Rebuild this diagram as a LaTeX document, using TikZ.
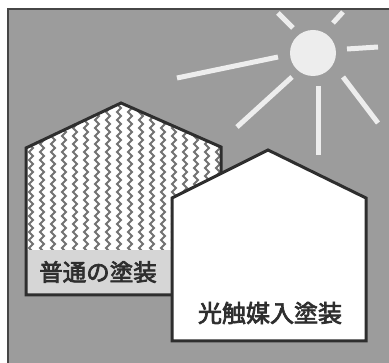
\documentclass[tikz,border=0pt]{standalone}
\usepackage{fontspec}
\newfontfamily\cjk{Noto Sans CJK JP}[FakeBold=3]
\usetikzlibrary{decorations.pathmorphing}
\definecolor{bg}{HTML}{9C9C9C}
\definecolor{sunwhite}{HTML}{EDEDED}
\definecolor{ink}{HTML}{2E2E2E}
\definecolor{band}{HTML}{D6D6D6}
\definecolor{zigcol}{HTML}{727272}
\tikzset{
  houseline/.style={draw=ink, line width=3pt, line join=miter},
  ray/.style={draw=sunwhite, line width=5pt},
  zig/.style={draw=zigcol, line width=2pt, decorate,
    decoration={zigzag, segment length=8pt, amplitude=2pt}},
  lbl/.style={text=ink, inner sep=0pt, font=\cjk\fontsize{23.5}{24}\selectfont},
}
\begin{document}
\begin{tikzpicture}[x=1pt,y=-1pt]
\useasboundingbox (0,0) rectangle (389,363);
\fill[white] (0,0) rectangle (389,363);
% panel
\fill[bg] (8,9) rectangle (389,363);
\draw[line width=1.2pt, gray!55!black] (8,363) -- (8,9) -- (389,9);

% sun and rays
\node[circle, fill=sunwhite, minimum size=46pt, inner sep=0pt] (sun) at (313,53) {};
\draw[ray] (278,13) -- (293,28);
\draw[ray] (333,23) -- (343,12);
\draw[ray] (347,49) -- (378,47);
\draw[ray] (177,78) -- (278,57);
\draw[ray] (237,127) -- (292,77);
\draw[ray] (318,86) -- (318,155);
\draw[ray] (343,77) -- (378,123);

% house with ordinary paint
\coordinate (la) at (26,295);
\coordinate (lb) at (26,148);
\coordinate (lc) at (121,103);
\coordinate (ld) at (221,147);
\coordinate (le) at (221,295);
\begin{scope}
  \clip (la) -- (lb) -- (lc) -- (ld) -- (le) -- cycle;
  \fill[white] (20,95) rectangle (230,300);
  \foreach \x in {31,42,...,222} \draw[zig] (\x,98) -- (\x,258);
  \fill[band] (20,250) rectangle (230,300);
\end{scope}
\draw[houseline] (la) -- (lb) -- (lc) -- (ld) -- (le) -- cycle;
\node[lbl] (plain) at (98,272) {普通の塗装};

% house with photocatalyst paint
\coordinate (ra) at (172,341);
\coordinate (rb) at (172,198);
\coordinate (rc) at (268,150);
\coordinate (rd) at (366,198);
\coordinate (re) at (366,341);
\draw[houseline, fill=white] (ra) -- (rb) -- (rc) -- (rd) -- (re) -- cycle;
\node[lbl, font=\cjk\fontsize{24}{25}\selectfont] (photo) at (270,313) {光触媒入塗装};
\end{tikzpicture}
\end{document}
